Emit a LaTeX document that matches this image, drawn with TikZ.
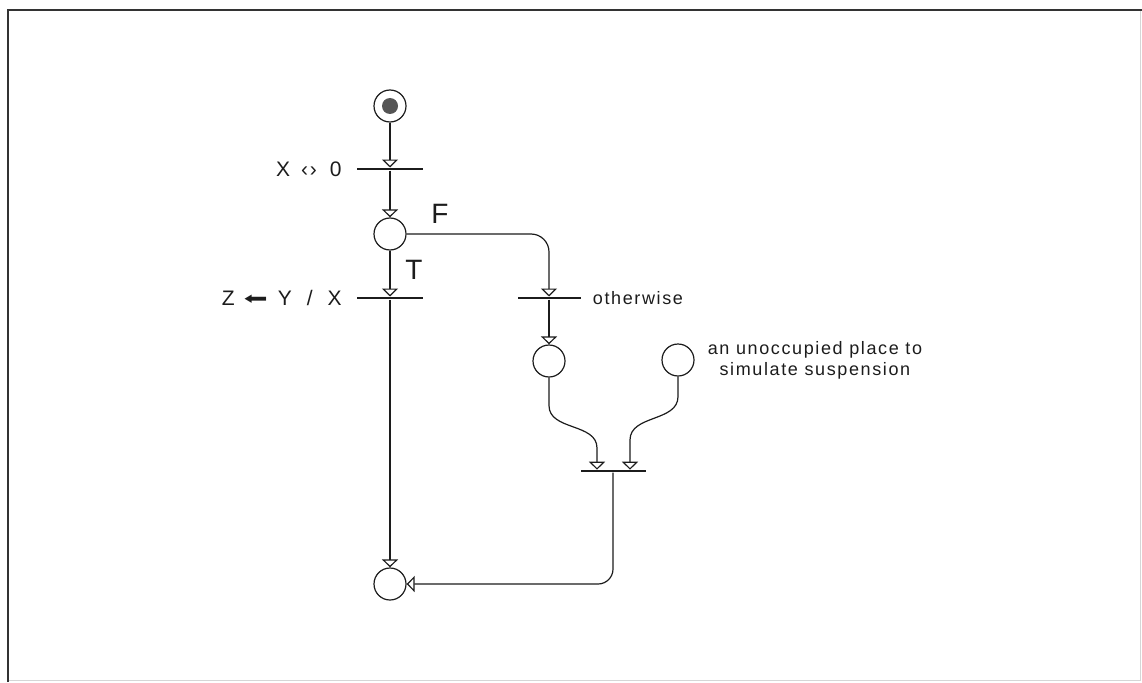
\documentclass[tikz,border=0pt]{standalone}
\usepackage{fontspec}
\usepackage{graphicx}
\setmainfont{Liberation Sans}[LetterSpace=9]
\newfontfamily\symfont{DejaVu Sans}
\usetikzlibrary{positioning,arrows.meta}
\definecolor{ink}{HTML}{1C1C1C}
\definecolor{frame}{HTML}{333333}
\definecolor{framelight}{HTML}{D6D6D6}

\begin{document}
\begin{tikzpicture}[x=1pt, y=-1pt, font=\fontsize{18}{21}\selectfont,
    place/.style={circle, draw=ink, line width=1.2pt, minimum size=32pt, inner sep=0pt},
    trans/.style={rectangle, fill=ink, minimum width=66pt, minimum height=2.6pt, inner sep=0pt},
    flow/.style={draw=ink, line width=1.2pt, -{Triangle[open,length=8pt,width=16pt]}},
    cond/.style={inner sep=0pt, text=ink, font=\fontsize{21}{24}\selectfont},
    branch/.style={inner sep=0pt, text=ink, font=\fontsize{28}{32}\selectfont},
    note/.style={inner sep=0pt, text=ink, align=center}]
    \useasboundingbox (0,0) rectangle (1142,682);
    \draw[framelight, line width=0.8pt] (1140,10) |- (8,680);
    \draw[frame, line width=2pt] (8,682) |- (1142,10);

    % main line
    \node[place] (start) at (390,106) {};
    \fill[ink!75] (start.center) circle (8pt);
    \node[trans] (test) at (390,169) {};
    \node[cond, left=15pt of test] {X\hspace{11pt}‹›\hspace{13pt}0};
    \node[place] (choice) at (390,234) {};
    \node[trans] (divide) at (390,298) {};
    \node[cond, left=15pt of divide] {Z\hspace{9pt}\raisebox{1pt}{\scalebox{2.2}[1.3]{\symfont\fontsize{13}{16}\selectfont ⬅}}\hspace{10pt}Y\hspace{15pt}/\hspace{15pt}X};
    \node[branch] (brT) at (414,270) {T};
    \node[branch] (brF) at (440,214) {F};
    \node[place] (done) at (390,584) {};

    % otherwise branch
    \node[trans, minimum width=63pt] (other) at (549,298) {};
    \node[note, right=12pt of other] {otherwise};
    \node[place] (waiting) at (549,361) {};
    \node[place] (suspend) at (678,360) {};
    \node[note, right=13pt of suspend] {an unoccupied place to\\simulate suspension};
    \node[trans, minimum width=65pt] (join) at (613,471) {};
    \coordinate (joinL) at (597,469.7);
    \coordinate (joinR) at (630,469.7);

    \draw[flow] (start) -- (test);
    \draw[flow] (test) -- (choice);
    \draw[flow] (choice) -- (divide);
    \draw[flow] (divide) -- (done);
    \draw[flow, rounded corners=18pt] (choice) -| (other);
    \draw[flow] (other) -- (waiting);
    \draw[flow] (waiting.south) -- ++(0,28) to[out=270,in=90] (597,448) -- (joinL);
    \draw[flow] (suspend.south) -- ++(0,20) to[out=270,in=90] (630,440) -- (joinR);
    \draw[flow, rounded corners=15pt] (join.south) |- (done);
  \end{tikzpicture}
\end{document}
